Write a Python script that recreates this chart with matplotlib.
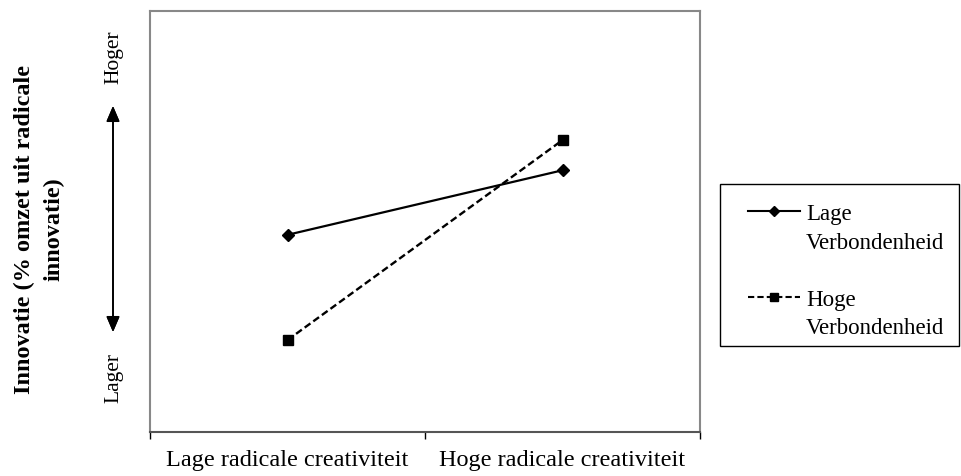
import matplotlib.pyplot as plt
from matplotlib.lines import Line2D
from matplotlib.patches import Rectangle

plt.rcParams['font.family'] = ['Liberation Serif', 'DejaVu Serif']

# categories on the x axis
categories = ["Lage radicale creativiteit", "Hoge radicale creativiteit"]
# innovation level (relative, no scale shown)
lage_verbondenheid = [2.81, 3.73]
hoge_verbondenheid = [1.31, 4.16]
# legend text, one line per entry (handle sits on the first line)
legend_lines = ["Lage", "Verbondenheid", "", "Hoge", "Verbondenheid"]

W, H = 961, 477
fig = plt.figure(figsize=(W / 100, H / 100), dpi=100)
ax = fig.add_axes([150 / W, (H - 433) / H, 550 / W, 421 / H])

xpos = [0.5, 1.5]
dash = (0, (3, 1.5))
ax.plot(xpos, lage_verbondenheid, color="black", linewidth=1.6,
        marker="D", markersize=6)
ax.plot(xpos, hoge_verbondenheid, color="black", linewidth=1.7,
        linestyle=dash, marker="s", markersize=7)

ax.set_xlim(0, 2)
ax.set_ylim(0, 6)
ax.set_yticks([])
ax.set_xticks([0, 1, 2])
ax.set_xticklabels([])
ax.set_xticks(xpos, minor=True)
ax.set_xticklabels(categories, minor=True, fontsize=17.5)
ax.tick_params(axis="x", which="major", length=5, width=1, color="black")
ax.tick_params(axis="x", which="minor", length=0, pad=12)

for side in ["left", "right", "top"]:
    ax.spines[side].set_color("#888888")
    ax.spines[side].set_linewidth(1.5)
ax.spines["bottom"].set_color("#555555")
ax.spines["bottom"].set_linewidth(1.5)

# y axis title and the higher/lower arrow
fig.text(39 / W, 1 - 229 / H, "Innovatie (% omzet uit radicale\ninnovatie)",
         rotation=90, ha="center", va="center", fontsize=17.5,
         fontweight="bold", linespacing=1.5)
fig.text(114 / W, 1 - 57 / H, "Hoger", rotation=90, ha="center",
         va="center", fontsize=15.5)
fig.text(114 / W, 1 - 378 / H, "Lager", rotation=90, ha="center",
         va="center", fontsize=15.5)
fig.add_artist(plt.annotate(
    "", xy=(113 / W, 1 - 107 / H), xytext=(113 / W, 1 - 333 / H),
    xycoords="figure fraction", textcoords="figure fraction",
    arrowprops=dict(arrowstyle="<|-|>,head_length=0.47,head_width=0.2",
                    color="black", lw=1.2, mutation_scale=20,
                    shrinkA=0, shrinkB=0)))

# legend: frame drawn separately, entries as single lines
blank = Line2D([], [], linestyle="none")
handles = [
    Line2D([], [], color="black", linewidth=1.5, marker="D", markersize=5),
    blank, blank,
    Line2D([], [], color="black", linewidth=1.5, linestyle=dash,
           marker="s", markersize=6),
    blank,
]
leg = fig.legend(handles, legend_lines, loc="upper left",
                 bbox_to_anchor=(748 / W, 1 - 204 / H), frameon=False,
                 fontsize=16.5, handlelength=2.27, handletextpad=0.26,
                 labelspacing=0.33, borderpad=0, borderaxespad=0)
fig.add_artist(Rectangle((720 / W, 1 - 347 / H), 239 / W, 162 / H,
                         transform=fig.transFigure, fill=False,
                         edgecolor="black", linewidth=1.0))

fig.savefig("out.png", dpi=100, facecolor="white")
